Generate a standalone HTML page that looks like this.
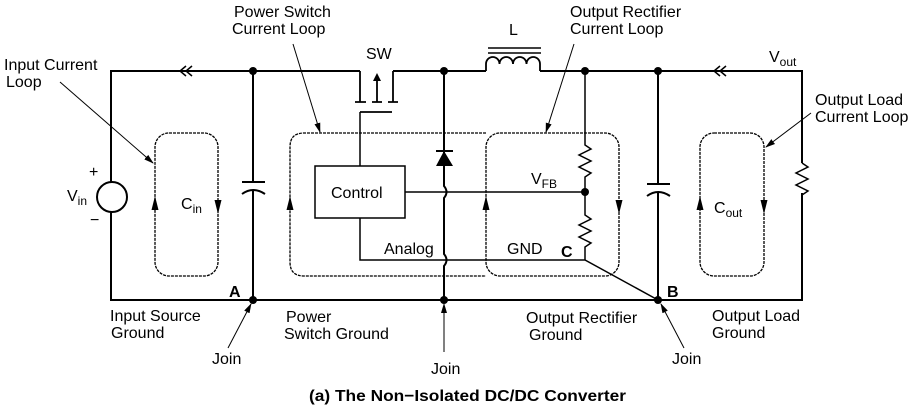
<!DOCTYPE html>
<html><head><style>body{margin:0;background:#fff}svg{display:block}text{font-family:"Liberation Sans",sans-serif;font-size:16px;fill:#000}</style></head><body>
<svg width="917" height="410" viewBox="0 0 917 410" xmlns="http://www.w3.org/2000/svg">
<defs><marker id="a" markerWidth="10" markerHeight="8" refX="9" refY="4" orient="auto" markerUnits="userSpaceOnUse"><path d="M0,1 L10,4 L0,7 Z"/></marker></defs>
<g stroke="#000" stroke-width="2" fill="none">
<path d="M111,183 V71 H360"/>
<path d="M393,71 H486 M540,71 H802 V163 M802,193 V300 H111 V211"/>
<path d="M486,71 V64 a6.75,7 0 0 1 13.5,0 a6.75,7 0 0 1 13.5,0 a6.75,7 0 0 1 13.5,0 a6.75,7 0 0 1 13.5,0 V71" stroke-width="1.8"/>
<path d="M488,48 H541 M488,53 H541" stroke-width="1.5"/>
<path d="M360,71 V102 M393,71 V102 M355,102 H366 M372,102 H382 M388,102 H398 M377,102 V76 M360,112 H392" stroke-width="1.8"/>
<path d="M360,112 V166" stroke-width="1.5"/>
<path d="M253,71 V182 M242,182 H265 M242,194 q11,-8 23,0 M253,190 V300"/>
<path d="M444,71 V186 q5,6 0,12 V254 q5,6 0,12 V300"/>
<path d="M436,151 H453" />
<rect x="315" y="166" width="90" height="52" stroke-width="1.5"/>
<path d="M405,192 H585 M360,218 V260 H585 L658,300" stroke-width="1.5"/>
<path d="M585,71 V145 l6,4 l-12,6 l12,6 l-12,6 l12,6 l-6,4 V215 l6,4 l-12,6 l12,6 l-12,6 l12,6 l-6,4 V260" stroke-width="1.5"/>
<path d="M658,71 V184 M647,184 H670 M647,196 q11,-8 23,0 M658,192 V300"/>
<path d="M802,163 l6,4 l-12,6 l12,6 l-12,6 l12,6 l-6,4" stroke-width="1.5"/>
<circle cx="112" cy="197" r="15"/>
<path d="M186,66 l-6,5 l6,5 M192,66 l-6,5 l6,5 M720,66 l-6,5 l6,5 M726,66 l-6,5 l6,5" stroke-width="1.5"/>
</g>
<path d="M436,166 H453 L444,151 Z" fill="#000"/>
<path d="M377,73 l-4,8 h8 z" fill="#000"/>
<g fill="#000"><circle cx="253" cy="71" r="4"/><circle cx="444" cy="71" r="4"/><circle cx="585" cy="71" r="4"/><circle cx="658" cy="71" r="4"/><circle cx="585" cy="192" r="4"/><circle cx="253" cy="300" r="4"/><circle cx="444" cy="300" r="4"/><circle cx="658" cy="300" r="4"/></g>
<g stroke="#000" stroke-width="1.3" fill="none" stroke-dasharray="3,1">
<rect x="155" y="133" width="63" height="143" rx="14"/>
<path d="M486,133 H304 q-14,0 -14,14 V262 q0,14 14,14 H486"/>
<rect x="486" y="133" width="133" height="143" rx="14"/>
<rect x="700" y="133" width="64" height="143" rx="14"/>
</g>
<g fill="#000">
<path d="M155,196 l-3.5,14 h7 z"/><path d="M218,214 l-3.5,-14 h7 z"/>
<path d="M290,196 l-3.5,14 h7 z"/>
<path d="M486,196 l-3.5,14 h7 z"/><path d="M619,214 l-3.5,-14 h7 z"/>
<path d="M700,196 l-3.5,14 h7 z"/><path d="M764,214 l-3.5,-14 h7 z"/>
</g>
<g stroke="#000" stroke-width="1" marker-end="url(#a)">
<line x1="60" y1="82" x2="153" y2="163"/>
<line x1="293" y1="44" x2="320" y2="132"/>
<line x1="574" y1="44" x2="546" y2="132"/>
<line x1="811" y1="113" x2="766" y2="147"/>
<line x1="228" y1="348" x2="251" y2="304"/>
<line x1="444" y1="352" x2="444" y2="304"/>
<line x1="684" y1="348" x2="661" y2="304"/>
</g>
<text x="4" y="70">Input Current</text><text x="6" y="87">Loop</text>
<text x="234" y="17">Power Switch</text><text x="232" y="34">Current Loop</text>
<text x="366" y="59">SW</text>
<text x="509" y="35">L</text>
<text x="570" y="17">Output Rectifier</text><text x="570" y="34">Current Loop</text>
<text x="769" y="62">V<tspan font-size="12" dy="4">out</tspan></text>
<text x="815" y="105">Output Load</text><text x="815" y="122">Current Loop</text>
<text x="89" y="177" font-size="12">+</text><text x="90" y="225" font-size="13">−</text>
<text x="67" y="201">V<tspan font-size="12" dy="4">in</tspan></text>
<text x="181" y="209">C<tspan font-size="12" dy="4">in</tspan></text>
<text x="331" y="198">Control</text>
<text x="531" y="184">V<tspan font-size="12" dy="4">FB</tspan></text>
<text x="384" y="254">Analog</text>
<text x="507" y="254">GND</text>
<text x="561" y="257" font-weight="bold" font-size="16">C</text>
<text x="714" y="213">C<tspan font-size="12" dy="4">out</tspan></text>
<text x="229" y="297" font-weight="bold" font-size="16">A</text>
<text x="667" y="297" font-weight="bold" font-size="16">B</text>
<text x="110" y="321">Input Source</text><text x="111" y="338">Ground</text>
<text x="286" y="322">Power</text><text x="284" y="339">Switch Ground</text>
<text x="526" y="323">Output Rectifier</text><text x="529" y="340">Ground</text>
<text x="712" y="321">Output Load</text><text x="712" y="338">Ground</text>
<text x="212" y="364">Join</text><text x="431" y="374">Join</text><text x="672" y="364">Join</text>
<text x="309" y="401" font-weight="bold" font-size="15" textLength="317" lengthAdjust="spacingAndGlyphs">(a) The Non−Isolated DC/DC Converter</text>
</svg>
</body></html>
